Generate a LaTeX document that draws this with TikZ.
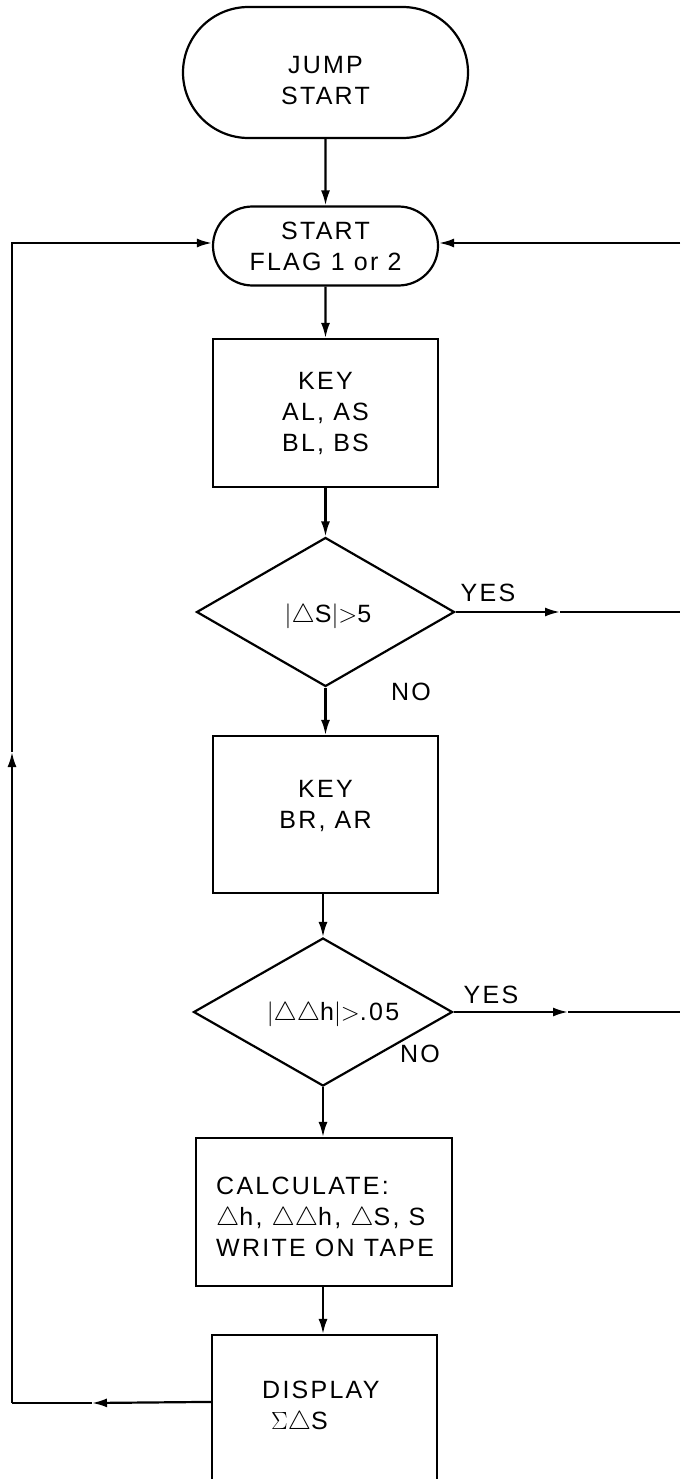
\documentclass[tikz,border=0pt]{standalone}
\usepackage{fontspec}
\setmainfont[LetterSpace=9]{Liberation Sans}
\usetikzlibrary{shapes.geometric,shapes.misc,arrows.meta,calc}
\tikzset{
  flow/.style={line width=2.2pt},
  arr/.style={flow,-{Latex[length=15pt,width=9pt]}},
  shapefont/.style={font=\fontsize{25}{31}\selectfont},
  term/.style={draw,flow,rounded rectangle,inner sep=0pt,align=center,shapefont},
  proc/.style={draw,flow,rectangle,inner sep=0pt,align=center,shapefont},
  decide/.style={draw,flow,diamond,inner sep=0pt,shapefont},
  lbl/.style={inner sep=0pt,shapefont},
  txt/.style={inner sep=0pt,align=left,shapefont},
  ctxt/.style={inner sep=0pt,align=center,shapefont}
}
\newcommand{\trix}{\scalebox{1.05}{$\triangle$}}
\begin{document}
\begin{tikzpicture}[x=1pt,y=-1pt]
\useasboundingbox (0,0) rectangle (680,1479);
\clip (0,0) rectangle (680,1479);
% nodes
\node[term,minimum width=285pt,minimum height=131pt] (jump) at (325.5,72.5) {};
\node[ctxt] (jumpt) at (325.5,81) {JUMP\\START};
\node[term,minimum width=225pt,minimum height=79pt] (flag) at (325.5,246) {START\\FLAG 1 or 2};
\node[proc,minimum width=225pt,minimum height=148pt] (key1) at (325.5,413) {KEY\\AL, AS\\BL, BS};
\node[decide,minimum width=258pt,minimum height=149pt] (d1) at (325.5,612) {};
\node[lbl] (d1t) at (328,616) {$|$\trix S$|$$>$5};
\node[proc,minimum width=225pt,minimum height=157pt] (key2) at (325.5,814.5) {};
\node[ctxt] (key2t) at (325.5,806) {KEY\\BR, AR};
\node[decide,minimum width=259pt,minimum height=148pt] (d2) at (323,1012) {};
\node[lbl] (d2t) at (333,1014) {$|$\trix\trix h$|$$>$.05};
\node[proc,minimum width=256pt,minimum height=148pt] (calc) at (324,1212) {};
\node[txt,anchor=west] (calct) at (216,1217) {CALCULATE:\\\trix h, \trix\trix h, \trix S, S\\WRITE ON TAPE};
\node[proc,minimum width=225pt,minimum height=220pt] (disp) at (324.5,1445) {};
\node[txt,anchor=north west] (dispt) at (262,1381) {DISPLAY\\\hspace*{9pt}$\Sigma$\trix S};
% labels
\node[lbl] (yes1) at (488,593) {YES};
\node[lbl] (no1) at (411,692) {NO};
\node[lbl] (yes2) at (491,995) {YES};
\node[lbl] (no2) at (420,1054) {NO};
% coordinates
\coordinate (r0) at (680,243);
\coordinate (r1) at (680,612);
\coordinate (m1) at (560,612);
\coordinate (r2) at (680,1012);
\coordinate (m2) at (568,1012);
\coordinate (dl) at ($(disp.north west)+(0,68)$);
\coordinate (bm) at (92,1403);
\coordinate (bl) at (12,1403);
\coordinate (lm) at (12,752);
\coordinate (tl) at (12,243);
% connectors
\draw[arr] (jump) -- (flag);
\draw[arr] (flag) -- (key1);
\draw[arr] (key1) -- (d1.north);
\draw[arr] (d1.south) -- (key2);
\draw[arr] (key2.south -| d2.north) -- (d2.north);
\draw[arr] (d2.south) -- (d2.south |- calc.north);
\draw[arr] (calc.south -| d2.south) -- (d2.south |- disp.north);
\draw[arr] (d1.east) -- (m1);
\draw[flow] (m1) -- (r1);
\draw[arr] (d2.east) -- (m2);
\draw[flow] (m2) -- (r2);
\draw[arr] (r0) -- (r0 -| flag.east);
\draw[arr] (dl) -- (bm);
\draw[flow] (bm) -- (bl);
\draw[arr] (bl) -- (lm);
\draw[arr] (lm) -- (tl) -- (tl -| flag.west);
\end{tikzpicture}
\end{document}
